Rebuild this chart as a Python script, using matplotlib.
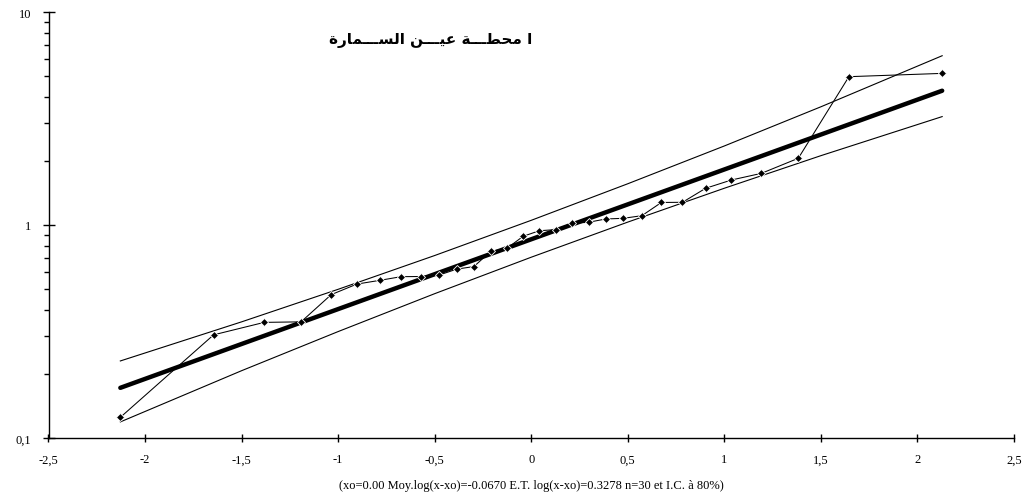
import matplotlib
matplotlib.use("Agg")
import matplotlib.pyplot as plt
from matplotlib.ticker import FixedLocator, LogLocator, NullFormatter

# ---------------- data ----------------
title_text = "ا محطـــة عيـــن الســـمارة"
caption_text = "(xo=0.00 Moy.log(x-xo)=-0.0670 E.T. log(x-xo)=0.3278 n=30 et I.C. à 80%)"

# normal quantiles (plotting positions) of the 30 observations
quantiles = [-2.128, -1.645, -1.383, -1.192, -1.036, -0.903, -0.783, -0.674,
             -0.573, -0.477, -0.385, -0.297, -0.210, -0.126, -0.042, 0.042,
             0.126, 0.210, 0.297, 0.385, 0.477, 0.573, 0.674, 0.783, 0.903,
             1.036, 1.192, 1.383, 1.645, 2.128]
observed = [0.125, 0.305, 0.349, 0.351, 0.471, 0.528, 0.550, 0.572, 0.573,
            0.582, 0.621, 0.638, 0.752, 0.777, 0.885, 0.940, 0.951, 1.018,
            1.030, 1.067, 1.075, 1.106, 1.276, 1.278, 1.487, 1.626, 1.748,
            2.057, 4.97, 5.15]

# fitted log-normal line (end points)
fit_x = [-2.128, 2.128]
fit_y = [0.172, 4.27]

# 80% confidence bands
band_x = [-2.128, -1.5, -1.0, -0.5, 0.0, 0.5, 1.0, 1.5, 2.128]
band_upper = [0.230, 0.351, 0.499, 0.719, 1.052, 1.562, 2.350, 3.589, 6.233]
band_lower = [0.119, 0.207, 0.316, 0.476, 0.706, 1.032, 1.488, 2.116, 3.228]

x_ticks = [-2.5, -2.0, -1.5, -1.0, -0.5, 0.0, 0.5, 1.0, 1.5, 2.0, 2.5]
x_tick_labels = ["-2,5", "-2", "-1,5", "-1", "-0,5", "0", "0,5", "1", "1,5", "2", "2,5"]
y_ticks = [0.1, 1, 10]
y_tick_labels = ["0,1", "1", "10"]

# ---------------- minimal Arabic shaping (presentation forms) ----------------
FORMS = {  # isolated, final, initial, medial
    "\u0627": ("\uFE8D", "\uFE8E", None, None),
    "\u0629": ("\uFE93", "\uFE94", None, None),
    "\u0631": ("\uFEAD", "\uFEAE", None, None),
    "\u062D": ("\uFEA1", "\uFEA2", "\uFEA3", "\uFEA4"),
    "\u0633": ("\uFEB1", "\uFEB2", "\uFEB3", "\uFEB4"),
    "\u0637": ("\uFEC1", "\uFEC2", "\uFEC3", "\uFEC4"),
    "\u0639": ("\uFEC9", "\uFECA", "\uFECB", "\uFECC"),
    "\u0644": ("\uFEDD", "\uFEDE", "\uFEDF", "\uFEE0"),
    "\u0645": ("\uFEE1", "\uFEE2", "\uFEE3", "\uFEE4"),
    "\u0646": ("\uFEE5", "\uFEE6", "\uFEE7", "\uFEE8"),
    "\u064A": ("\uFEF1", "\uFEF2", "\uFEF3", "\uFEF4"),
}
TATWEEL = "\u0640"


def _joins_next(c):
    return c == TATWEEL or (c in FORMS and FORMS[c][2] is not None)


def _joins_prev(c):
    return c == TATWEEL or c in FORMS


def shape_arabic(s):
    out = []
    for i, c in enumerate(s):
        if c not in FORMS:
            out.append(c)
            continue
        prev = s[i - 1] if i > 0 else ""
        nxt = s[i + 1] if i + 1 < len(s) else ""
        jp = prev != "" and _joins_next(prev)
        jn = nxt != "" and _joins_prev(nxt) and FORMS[c][2] is not None
        iso, fin, ini, med = FORMS[c]
        if jp and jn:
            out.append(med)
        elif jp:
            out.append(fin)
        elif jn:
            out.append(ini)
        else:
            out.append(iso)
    return "".join(reversed(out))


# ---------------- figure ----------------
fig = plt.figure(figsize=(10.29, 5.02), dpi=100)
ax = fig.add_axes([48.5 / 1029, 63 / 502, 965.5 / 1029, 426 / 502])

ax.set_yscale("log")
ax.set_xlim(-2.5, 2.5)
ax.set_ylim(0.1, 10)

ax.plot(band_x, band_upper, color="black", lw=0.8, zorder=2)
ax.plot(band_x, band_lower, color="black", lw=0.8, zorder=2)
ax.plot(fit_x, fit_y, color="black", lw=3.2, solid_capstyle="round", zorder=3)
ax.plot(quantiles, observed, color="black", lw=0.75, marker="D", markersize=4.2,
        markerfacecolor="black", markeredgecolor="white", markeredgewidth=0.6,
        zorder=4)

for side in ("top", "right"):
    ax.spines[side].set_visible(False)
for side in ("left", "bottom"):
    ax.spines[side].set_linewidth(1.0)
    ax.spines[side].set_color("black")

serif = "Liberation Serif"
ax.set_xticks(x_ticks)
ax.set_xticklabels(x_tick_labels, fontsize=9, family=serif)
ax.yaxis.set_major_locator(FixedLocator(y_ticks))
ax.set_yticklabels(y_tick_labels, fontsize=9, family=serif)
ax.yaxis.set_minor_locator(LogLocator(base=10, subs=(2, 3, 4, 5, 6, 7, 8, 9)))
ax.yaxis.set_minor_formatter(NullFormatter())

ax.tick_params(axis="x", which="major", direction="inout", length=6, width=1.0, pad=8)
ax.tick_params(axis="y", which="major", direction="inout", length=9, width=1.0, pad=8)
ax.tick_params(axis="y", which="minor", direction="out", length=3.5, width=1.0)

fig.text((531 + 0) / 1029, 1 - 486 / 502, caption_text, ha="center", va="center",
         fontsize=9, family=serif)
fig.text(431 / 1029, 1 - 41 / 502, shape_arabic(title_text), ha="center", va="center",
         fontsize=11, fontweight="bold", family=["DejaVu Sans"])

fig.savefig("out.png", dpi=100, facecolor="white")
